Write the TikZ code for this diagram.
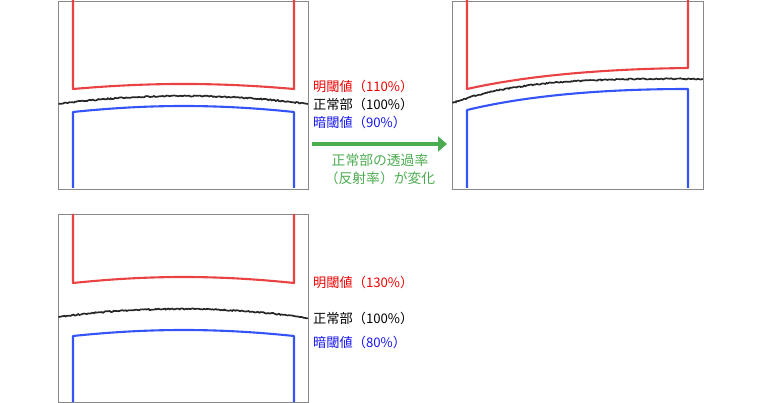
\documentclass[tikz,border=0pt]{standalone}
\usepackage{fontspec}
\setmainfont{Noto Sans CJK JP}
\usetikzlibrary{decorations.pathmorphing,arrows.meta}
\definecolor{lred}{RGB}{234,66,66}
\definecolor{lblue}{RGB}{52,84,250}
\definecolor{tred}{RGB}{240,0,0}
\definecolor{tblue}{RGB}{20,20,240}
\definecolor{tgreen}{RGB}{76,172,80}
\definecolor{frame}{RGB}{136,136,136}
\tikzset{
  panel/.style={draw=frame,line width=1.3pt},
  redline/.style={draw=lred,line width=2.1pt,line join=round},
  blueline/.style={draw=lblue,line width=2.1pt,line join=round},
  noisy/.style={draw=black!85,line width=1.7pt,decorate,decoration={random steps,segment length=1.5pt,amplitude=0.6pt}},
  lbl/.style={anchor=west,inner sep=0pt,font=\fontsize{13.2}{15}\selectfont},
  gtxt/.style={inner sep=0pt,text=tgreen,font=\fontsize{13.8}{15}\selectfont},
  garrow/.style={draw=tgreen,line width=4pt,-{Triangle[length=9pt,width=15pt]}}
}
\begin{document}
\begin{tikzpicture}[x=1pt,y=-1pt]
\useasboundingbox (0,0) rectangle (760,403);
\pgfmathsetseed{7}
% Panel 1
\node[panel,minimum width=250pt,minimum height=188pt,anchor=north west,inner sep=0pt] (p1) at (58,0.7) {};
\draw[redline] (73,0) -- (73,89) .. controls (150,82.3) and (217,82.3) .. (294,89) -- (294,0);
\draw[noisy] (58.5,104) .. controls (140,93.3) and (226,93.3) .. (307.5,104);
\draw[blueline] (73,188) -- (73,112) .. controls (150,104) and (217,104) .. (294,112) -- (294,188);
\node[lbl,text=tred] (t1a) at (313,86) {明閾値（110\%）};
\node[lbl,text=black] (t1b) at (313,104) {正常部（100\%）};
\node[lbl,text=tblue] (t1c) at (313,122) {暗閾値（90\%）};
% Arrow
\coordinate (as) at (312,144);
\coordinate (ae) at (447,144);
\draw[garrow] (as) -- (ae);
\node[gtxt] (g1) at (380,160) {正常部の透過率};
\node[gtxt] (g2) at (380,178) {（反射率）が変化};
% Panel 2
\node[panel,minimum width=251pt,minimum height=188pt,anchor=north west,inner sep=0pt] (p2) at (452,0.7) {};
\draw[redline] (467,0) -- (467,89) .. controls (525,76) and (600,69) .. (688,68) -- (688,0);
\draw[noisy] (452.5,103) .. controls (510,82) and (580,78) .. (702.5,79);
\draw[blueline] (467,188) -- (467,110) .. controls (525,96) and (600,89) .. (688,89) -- (688,188);
% Panel 3
\node[panel,minimum width=250pt,minimum height=188pt,anchor=north west,inner sep=0pt] (p3) at (58,214) {};
\draw[redline] (73,214) -- (73,283) .. controls (150,275) and (217,275) .. (294,283) -- (294,214);
\draw[noisy] (58.5,317) .. controls (140,306) and (226,306) .. (307.5,318);
\draw[blueline] (73,402) -- (73,336) .. controls (150,328) and (217,328) .. (294,336) -- (294,402);
\node[lbl,text=tred] (t3a) at (313,282) {明閾値（130\%）};
\node[lbl,text=black] (t3b) at (313,318) {正常部（100\%）};
\node[lbl,text=tblue] (t3c) at (313,342) {暗閾値（80\%）};
\end{tikzpicture}
\end{document}
